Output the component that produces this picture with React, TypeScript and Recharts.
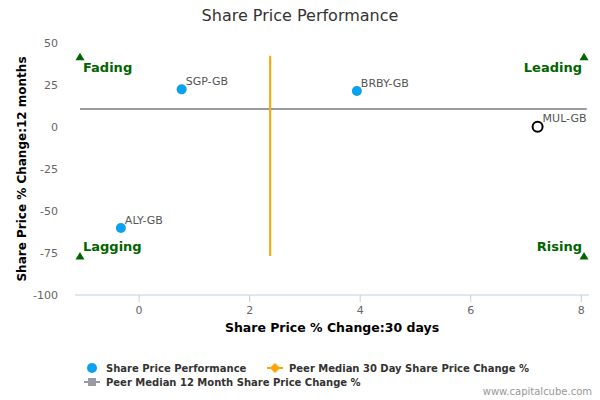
import React from 'react';
import { ScatterChart, Scatter, XAxis, YAxis, ReferenceLine, Label } from 'recharts';

// peers in the blue series, the subject company drawn as an open ring
const peerNames = ['SGP-GB', 'BRBY-GB', 'ALY-GB'];
const peer30Day = [0.77, 3.94, -0.33];
const peer12Month = [22.4, 21.4, -60.1];

const companyNames = ['MUL-GB'];
const company30Day = [7.21];
const company12Month = [0.2];

// quadrant corner markers
const quadrantNames = ['Fading', 'Leading', 'Lagging', 'Rising'];
const quadrant30Day = [-1.07, 8.05, -1.07, 8.05];
const quadrant12Month = [41.8, 41.8, -76.8, -76.8];

// peer medians and the span the median lines cover
const median30Day = 2.37;
const median12Month = 10.7;
const median30DaySpan = [-76.8, 42.4];
const median12MonthSpan = [-1.07, 8.1];

const xTicks = [0, 2, 4, 6, 8];
const yTicks = [-100, -75, -50, -25, 0, 25, 50];

const legendItems = [
  { label: 'Share Price Performance', kind: 'dot', color: '#0aa2f0' },
  { label: 'Peer Median 30 Day Share Price Change %', kind: 'diamond', color: '#ffa500' },
  { label: 'Peer Median 12 Month Share Price Change %', kind: 'square', color: '#999aa5' },
];

const peers = peerNames.map((name, i) => ({ name, x: peer30Day[i], y: peer12Month[i] }));
const company = companyNames.map((name, i) => ({ name, x: company30Day[i], y: company12Month[i] }));
const quadrants = quadrantNames.map((name, i) => ({ name, x: quadrant30Day[i], y: quadrant12Month[i] }));

const FONT = '"DejaVu Sans", Verdana, sans-serif';

const PeerDot = (props: any) => {
  const { cx, cy, payload } = props;
  return (
    <g>
      <circle cx={cx} cy={cy} r={5} fill="#0aa2f0" />
      <text x={cx + 4} y={cy - 4} fontSize={11} fill="#555" fontFamily={FONT}>
        {payload.name}
      </text>
    </g>
  );
};

const CompanyDot = (props: any) => {
  const { cx, cy, payload } = props;
  return (
    <g>
      <circle cx={cx} cy={cy} r={5} fill="#fff" stroke="#000" strokeWidth={2} />
      <text x={cx + 5} y={cy - 5} fontSize={11} fill="#555" fontFamily={FONT}>
        {payload.name}
      </text>
    </g>
  );
};

const QuadrantMark = (props: any) => {
  const { cx, cy, payload } = props;
  const onLeft = payload.x < median30Day;
  const onTop = payload.y > median12Month;
  return (
    <g>
      <polygon
        points={`${cx},${cy - 4} ${cx + 4.5},${cy + 3.5} ${cx - 4.5},${cy + 3.5}`}
        fill="#006400"
      />
      <text
        x={onLeft ? cx + 3 : cx - 2}
        y={onTop ? cy + 15 : cy - 5}
        textAnchor={onLeft ? 'start' : 'end'}
        fontSize={13}
        fontWeight="bold"
        fill="#006400"
        fontFamily={FONT}
      >
        {payload.name}
      </text>
    </g>
  );
};

const LegendSymbol = ({ kind, color }: { kind: string; color: string }) => {
  if (kind === 'dot') {
    return (
      <svg width={16} height={12}>
        <circle cx={8} cy={6} r={5} fill={color} />
      </svg>
    );
  }
  return (
    <svg width={16} height={12}>
      <line x1={0} y1={6} x2={16} y2={6} stroke={color} strokeWidth={2} />
      {kind === 'diamond' ? (
        <polygon points="8,1 13,6 8,11 3,6" fill={color} />
      ) : (
        <rect x={4} y={2} width={8} height={8} fill={color} />
      )}
    </svg>
  );
};

const App = () => {
  return (
    <div style={{ position: 'absolute', left: 0, top: 0, width: 600, height: 400, fontFamily: FONT, background: '#fff' }}>
      <div style={{ position: 'absolute', left: 0, top: 6, width: 600, textAlign: 'center', fontSize: 16, color: '#333' }}>
        Share Price Performance
      </div>
      <ScatterChart width={600} height={400} margin={{ top: 43, right: 11, bottom: 60, left: 0 }}>
        <XAxis
          type="number"
          dataKey="x"
          domain={[-1.16, 8.14]}
          ticks={xTicks}
          allowDataOverflow
          height={45}
          axisLine={{ stroke: '#c0d0e0' }}
          tickLine={{ stroke: '#c0d0e0' }}
          tickSize={7}
          tickMargin={4}
          tick={{ fontSize: 11, fill: '#666', fontFamily: FONT }}
        >
          <Label
            content={({ viewBox }: any) => (
              <text
                x={viewBox.x + viewBox.width / 2}
                y={viewBox.y + 37}
                textAnchor="middle"
                fontSize={12.5}
                fontWeight="bold"
                fill="#000"
                fontFamily={FONT}
              >
                Share Price % Change:30 days
              </text>
            )}
          />
        </XAxis>
        <YAxis
          type="number"
          dataKey="y"
          domain={[-100, 50]}
          ticks={yTicks}
          allowDataOverflow
          width={75}
          axisLine={false}
          tickLine={false}
          tickSize={0}
          tickMargin={17}
          tick={{ fontSize: 11, fill: '#666', fontFamily: FONT }}
        >
          <Label
            content={({ viewBox }: any) => {
              const cy = viewBox.y + viewBox.height / 2;
              return (
                <text
                  x={26}
                  y={cy}
                  transform={`rotate(-90 26 ${cy})`}
                  textAnchor="middle"
                  fontSize={12}
                  fontWeight="bold"
                  fill="#000"
                  fontFamily={FONT}
                >
                  Share Price % Change:12 months
                </text>
              );
            }}
          />
        </YAxis>
        <ReferenceLine
          segment={[
            { x: median12MonthSpan[0], y: median12Month },
            { x: median12MonthSpan[1], y: median12Month },
          ]}
          stroke="#999aa5"
          strokeWidth={2}
        />
        <ReferenceLine
          segment={[
            { x: median30Day, y: median30DaySpan[0] },
            { x: median30Day, y: median30DaySpan[1] },
          ]}
          stroke="#ffa500"
          strokeWidth={2}
        />
        <Scatter data={quadrants} shape={QuadrantMark} isAnimationActive={false} />
        <Scatter data={peers} shape={PeerDot} isAnimationActive={false} />
        <Scatter data={company} shape={CompanyDot} isAnimationActive={false} />
      </ScatterChart>
      <div style={{ position: 'absolute', left: 84, top: 362, width: 480, fontSize: 10, fontWeight: 'bold', color: '#333' }}>
        {legendItems.map((item, i) => (
          <div
            key={item.label}
            style={{
              position: 'absolute',
              left: i === 1 ? 183 : 0,
              top: i === 2 ? 14 : 0,
              display: 'flex',
              alignItems: 'center',
              whiteSpace: 'nowrap',
            }}
          >
            <LegendSymbol kind={item.kind} color={item.color} />
            <span style={{ marginLeft: 6 }}>{item.label}</span>
          </div>
        ))}
      </div>
      <div style={{ position: 'absolute', right: 8, top: 386, fontSize: 10, color: '#999' }}>www.capitalcube.com</div>
    </div>
  );
};

export default App;
